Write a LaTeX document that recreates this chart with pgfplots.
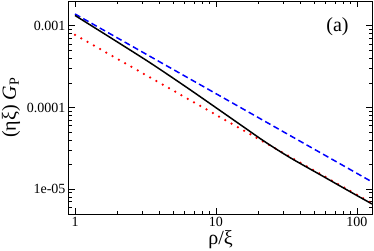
\documentclass[border=0pt]{standalone}
\usepackage{pgfplots}
\pgfplotsset{compat=1.18}
\usepackage{fontspec}
\setmainfont{Liberation Serif}
\begin{document}
\begin{tikzpicture}
\begin{axis}[
  xmode=log, ymode=log,
  scale only axis, width=303pt, height=213pt,
  xmin=0.9066, xmax=127.8, ymin=4.955e-6, ymax=2.018e-3,
  xtick={1,10,100}, xticklabels={1,10,100},
  ytick={1e-5,1e-4,1e-3}, yticklabels={1e-05,0.0001,0.001},
  minor xtick={2,3,4,5,6,7,8,9,20,30,40,50,60,70,80,90},
  minor ytick={6e-6,7e-6,8e-6,9e-6,2e-5,3e-5,4e-5,5e-5,6e-5,7e-5,8e-5,9e-5,2e-4,3e-4,4e-4,5e-4,6e-4,7e-4,8e-4,9e-4,2e-3},
  tick align=inside,
  major tick length=6pt, minor tick length=3pt,
  axis line style={line width=1pt},
  every tick/.style={line width=0.8pt, black},
  ticklabel style={font=\fontsize{14}{14}\selectfont},
  label style={font=\fontsize{20}{20}\selectfont},
  xlabel={ρ/ξ},
  xlabel style={yshift=3pt},
  ylabel={(ηξ) \textit{G}\textsubscript{P}},
  clip=true,
]
\addplot[blue, line width=1.5pt, dash pattern=on 6pt off 3.5pt] coordinates {
  (1,1.40e-3) (127.8,1.227e-5)
};
\addplot[red, line width=2.5pt, line cap=round, dash pattern=on 0pt off 7.2pt] coordinates {
  (1,7.77e-4) (127.8,6.69e-6)
};
\addplot[black, line width=1.5pt, smooth, tension=0.5] coordinates {
  (1,1.343e-3) (1.771,7.24e-4) (3.403,3.54e-4) (6.229,1.754e-4) (10.68,9.19e-5)
  (16.06,5.62e-5) (22.26,3.80e-5) (33.48,2.435e-5) (54.65,1.507e-5) (89.2,9.32e-6) (127.8,6.58e-6)
};
\node[font=\fontsize{20}{20}\selectfont] at (rel axis cs:0.886,0.88) {(a)};
\end{axis}
\pgfresetboundingbox
\path (current axis.south west) ++(-69pt,-36pt) rectangle ++(374pt,250pt);
\end{tikzpicture}
\end{document}
